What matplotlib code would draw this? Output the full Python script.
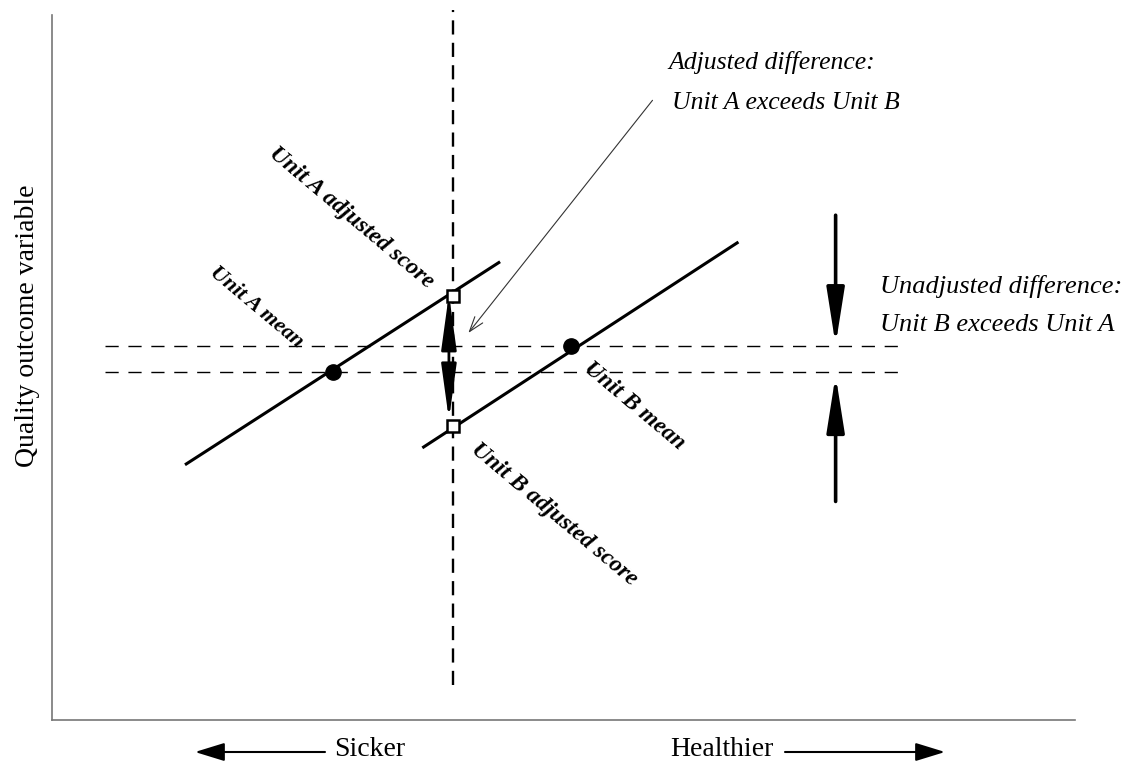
import numpy as np
import matplotlib
matplotlib.use('Agg')
import matplotlib.pyplot as plt

plt.rcParams['font.family'] = ['Liberation Serif', 'DejaVu Serif']

# regression lines (severity on x, quality on y), arbitrary 0-100 units
unit_a_x = [13.0, 43.8]
unit_a_y = [36.2, 65.0]
unit_b_x = [36.2, 67.1]
unit_b_y = [38.6, 67.8]

mean_x = [27.5, 50.7]      # unit A, unit B
mean_y = [49.4, 53.0]
adj_x = [39.2, 39.2]       # common reference severity
adj_y = [60.1, 41.7]

ref_x = 39.2
dash_x = [5.2, 82.9]
diff_x = 76.6

fig = plt.figure(figsize=(11.38, 7.62), dpi=100)
ax = fig.add_axes([52/1138, 42/762, 1023/1138, 705/762])
ax.set_xlim(0, 100)
ax.set_ylim(0, 100)
ax.set_xticks([])
ax.set_yticks([])
for s in ['top', 'right']:
    ax.spines[s].set_visible(False)
for s in ['left', 'bottom']:
    ax.spines[s].set_color('#777777')
    ax.spines[s].set_linewidth(1.2)

# dashed guides
ax.plot([ref_x, ref_x], [5.0, 100.7], 'k', ls=(0, (6, 3.5)), lw=1.7, clip_on=False)
for yy in mean_y:
    ax.plot(dash_x, [yy, yy], 'k', ls=(0, (9.5, 7)), lw=1.0)

# lines
ax.plot(unit_a_x, unit_a_y, 'k', lw=2.2, solid_capstyle='butt')
ax.plot(unit_b_x, unit_b_y, 'k', lw=2.2, solid_capstyle='butt')
ax.plot(mean_x, mean_y, 'o', color='k', ms=11, zorder=5)
ax.plot(adj_x, adj_y, 's', mfc='white', mec='k', mew=1.8, ms=8, zorder=5)

# adjusted difference double arrow
ax.annotate('', xy=(38.8, 60.4), xytext=(38.8, 42.6),
            arrowprops=dict(arrowstyle='<|-|>,head_length=2.4,head_width=0.33',
                            mutation_scale=14, lw=2, color='k', shrinkA=0, shrinkB=0))

# unadjusted difference arrows
ax.annotate('', xy=(diff_x, mean_y[1] + 0.2), xytext=(diff_x, 71.6),
            arrowprops=dict(arrowstyle='-|>,head_length=1.9,head_width=0.3',
                            mutation_scale=18, lw=2.6, color='k', shrinkA=0, shrinkB=0))
ax.annotate('', xy=(diff_x, mean_y[0] - 0.5), xytext=(diff_x, 31.0),
            arrowprops=dict(arrowstyle='-|>,head_length=1.9,head_width=0.3',
                            mutation_scale=18, lw=2.6, color='k', shrinkA=0, shrinkB=0))

# pointer arrow
ax.annotate('', xy=(40.7, 54.9), xytext=(58.7, 87.9),
            arrowprops=dict(arrowstyle='->,head_length=0.9,head_width=0.3',
                            mutation_scale=12, lw=0.8, color='#333333', shrinkA=0, shrinkB=0))

fs = 18.5
ax.text(60.3, 93.3, 'Adjusted difference:', style='italic', fontsize=fs, va='center', ha='left')
ax.text(60.6, 87.5, 'Unit A exceeds Unit B', style='italic', fontsize=fs, va='center', ha='left')
ax.text(80.9, 61.5, 'Unadjusted difference:', style='italic', fontsize=19, va='center', ha='left')
ax.text(80.9, 56.0, 'Unit B exceeds Unit A', style='italic', fontsize=19, va='center', ha='left')

lab = dict(style='italic', weight='bold', fontsize=17, ha='center', va='center',
           rotation=-40, rotation_mode='anchor')
ax.text(29.3, 71.2, 'Unit A adjusted score', **lab)
ax.text(56.9, 44.5, 'Unit B mean', **lab)
ax.text(49.1, 29.1, 'Unit B adjusted score', **lab)
lab['fontsize'] = 16
ax.text(20.0, 58.6, 'Unit A mean', **lab)

fig.text(28/1138, 1 - 326/762, 'Quality outcome variable', rotation=90,
         fontsize=20, ha='center', va='center')
fig.text(370/1138, 1 - 750/762, 'Sicker', fontsize=20, ha='center', va='center')
fig.text(722/1138, 1 - 750/762, 'Healthier', fontsize=20, ha='center', va='center')
fig.add_artist(matplotlib.patches.FancyArrowPatch(
    (325/1138, 1 - 752/762), (195/1138, 1 - 752/762), transform=fig.transFigure,
    arrowstyle='-|>,head_length=1.3,head_width=0.4', mutation_scale=14, lw=1.5, color='k',
    shrinkA=0, shrinkB=0))
fig.add_artist(matplotlib.patches.FancyArrowPatch(
    (785/1138, 1 - 752/762), (945/1138, 1 - 752/762), transform=fig.transFigure,
    arrowstyle='-|>,head_length=1.3,head_width=0.4', mutation_scale=14, lw=1.5, color='k',
    shrinkA=0, shrinkB=0))

fig.savefig('out.png', dpi=100)
